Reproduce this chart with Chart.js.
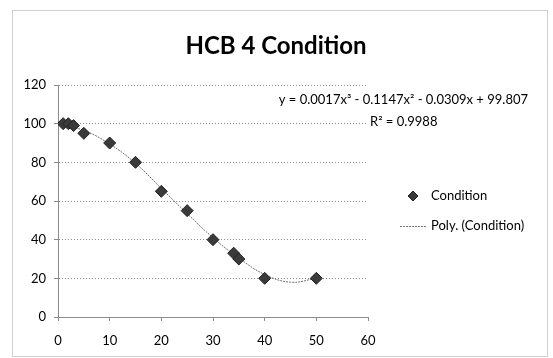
<!DOCTYPE html>
<html>
<head>
<meta charset="utf-8">
<script src="https://cdn.jsdelivr.net/npm/chart.js@4.4.1/dist/chart.umd.min.js"></script>
<style>
  html, body { margin: 0; padding: 0; background: #ffffff; }
  #wrap { width: 553px; height: 358px; }
</style>
</head>
<body>
<div id="wrap"><canvas id="chart1" width="553" height="358"></canvas></div>
<script>
// Measured points (days vs condition)
const conditionX = [1, 2, 3, 5, 10, 15, 20, 25, 30, 34, 35, 40, 50];
const conditionY = [100, 100, 99, 95, 90, 80, 65, 55, 40, 33, 30, 20, 20];

// Trend line
const trendX = [0, 5, 10, 15, 20, 25, 30, 35, 40, 45, 50];
const trendY = [99.8, 96.5, 89.5, 79.5, 66.5, 53.5, 41, 30.5, 22, 18, 20];

const xTicks = [0, 10, 20, 30, 40, 50, 60];
const yTicks = [0, 20, 40, 60, 80, 100, 120];

const titleText = "HCB 4 Condition";
const equationText = "y = 0.0017x\u00B3 - 0.1147x\u00B2 - 0.0309x + 99.807";
const rSquaredText = "R\u00B2 = 0.9988";

const fontFamily = "'Liberation Sans Narrow', 'Lato', sans-serif";
const gridColor = "#8c8c8c";
const markerFill = "#3a3a3a";

function toPoints(xs, ys) {
  return xs.map((x, i) => ({ x: x, y: ys[i] }));
}

// Frame, title, equation and legend, drawn like the Excel chart
const extrasPlugin = {
  id: "extras",
  beforeDraw(chart) {
    const ctx = chart.ctx;
    ctx.save();
    ctx.strokeStyle = "#a0a0a0";
    ctx.lineWidth = 1;
    ctx.setLineDash([1, 1]);
    ctx.strokeRect(12.5, 10.5, 535, 346);
    ctx.restore();
  },
  afterDraw(chart) {
    const ctx = chart.ctx;
    ctx.save();
    ctx.fillStyle = "#000000";
    ctx.textBaseline = "middle";
    ctx.textAlign = "center";
    ctx.font = "bold 24px " + fontFamily;
    ctx.fillText(titleText, 276, 46);

    ctx.font = "13px " + fontFamily;
    ctx.textAlign = "right";
    ctx.fillText(equationText, 528, 100);
    ctx.textAlign = "left";
    ctx.fillText(rSquaredText, 370, 122);

    // legend
    const lx = 413, ly1 = 196, ly2 = 226;
    ctx.fillStyle = markerFill;
    ctx.strokeStyle = "#222";
    ctx.beginPath();
    ctx.moveTo(lx, ly1 - 5);
    ctx.lineTo(lx + 5, ly1);
    ctx.lineTo(lx, ly1 + 5);
    ctx.lineTo(lx - 5, ly1);
    ctx.closePath();
    ctx.fill();
    ctx.stroke();

    ctx.strokeStyle = "#777";
    ctx.setLineDash([2, 1]);
    ctx.beginPath();
    ctx.moveTo(400, ly2 + 0.5);
    ctx.lineTo(427, ly2 + 0.5);
    ctx.stroke();
    ctx.setLineDash([]);

    ctx.fillStyle = "#000";
    ctx.fillText("Condition", 431, ly1);
    ctx.fillText("Poly. (Condition)", 431, ly2);
    ctx.restore();
  },
};

const ctx1 = document.getElementById("chart1").getContext("2d");
new Chart(ctx1, {
  type: "scatter",
  data: {
    datasets: [
      {
        label: "Condition",
        data: toPoints(conditionX, conditionY),
        pointStyle: "rectRot",
        pointRadius: 6,
        pointBackgroundColor: markerFill,
        pointBorderColor: "#222222",
        pointBorderWidth: 1,
        showLine: false,
        order: 1,
      },
      {
        label: "Poly. (Condition)",
        data: toPoints(trendX, trendY),
        showLine: true,
        pointRadius: 0,
        borderColor: "#707070",
        borderWidth: 1,
        borderDash: [2, 1],
        tension: 0.4,
        order: 2,
      },
    ],
  },
  options: {
    responsive: false,
    animation: false,
    layout: { padding: { left: 12, right: 185, top: 85, bottom: 3 } },
    plugins: {
      legend: { display: false },
      tooltip: { enabled: false },
      title: { display: false },
    },
    scales: {
      x: {
        type: "linear",
        min: 0,
        max: 60,
        afterBuildTicks: (axis) => {
          axis.ticks = xTicks.map((v) => ({ value: v }));
        },
        afterFit: (axis) => {
          axis.height = 38;
        },
        grid: {
          drawOnChartArea: false,
          drawTicks: true,
          tickLength: 4,
          color: gridColor,
        },
        border: { display: true, color: gridColor, dash: [1, 2] },
        ticks: {
          color: "#000000",
          font: { family: fontFamily, size: 13 },
          padding: 12,
        },
      },
      y: {
        type: "linear",
        min: 0,
        max: 120,
        afterBuildTicks: (axis) => {
          axis.ticks = yTicks.map((v) => ({ value: v }));
        },
        afterFit: (axis) => {
          axis.width = 46;
        },
        grid: {
          color: gridColor,
          drawTicks: true,
          tickLength: 4,
        },
        border: { display: true, color: gridColor, dash: [1, 2] },
        ticks: {
          color: "#000000",
          font: { family: fontFamily, size: 13 },
          padding: 8,
        },
      },
    },
  },
  plugins: [extrasPlugin],
});
</script>
</body>
</html>
